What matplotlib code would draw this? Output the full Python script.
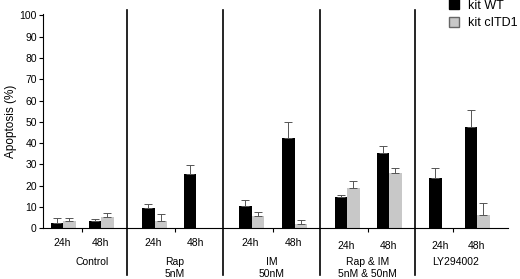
import numpy as np
import matplotlib.pyplot as plt
from matplotlib.patches import Patch

plt.rcParams['font.family'] = ['Liberation Sans', 'DejaVu Sans']

# data: apoptosis (%)
groups = ["Control", "Rap\n5nM", "IM\n50nM", "Rap & IM\n5nM & 50nM", "LY294002"]
times = ["24h", "48h"]
wt = [2.3, 3.6, 9.3, 25.7, 10.6, 42.5, 14.5, 35.5, 23.8, 47.8]
wt_err = [2.4, 0.9, 1.9, 4.2, 2.9, 7.5, 1.1, 3.1, 4.5, 7.8]
itd = [3.4, 5.1, 3.4, 0.0, 5.7, 2.2, 18.7, 26.2, 0.0, 6.1]
itd_err = [1.3, 2.2, 3.3, 0.0, 1.8, 1.5, 3.4, 2.1, 0.0, 5.7]

# layout (x in pixel-like units of the original figure)
pair_x = np.array([63, 101, 154.5, 196, 251.5, 294.5, 347, 389, 441.5, 477])
seps = [127, 223, 320, 414.5]
group_mid = [82, 175, 273, 368, 453]
label_x = [92, 174.5, 272, 367.5, 456]
w = 12.5

fig = plt.figure(figsize=(5.2, 2.79), dpi=100)
ax = fig.add_axes([43/520, 50.7/279, (508-43)/520, 214/279])

zeros = np.zeros(len(wt))
ax.bar(pair_x - w/2, wt, w, color="black", yerr=[zeros, wt_err],
       error_kw=dict(ecolor="#555555", elinewidth=0.7, capsize=3, capthick=0.7))
itd_arr = np.array(itd)
mask = itd_arr > 0
ax.bar(pair_x[mask] + w/2, itd_arr[mask], w, color="#c8c8c8",
       yerr=[zeros[mask], np.array(itd_err)[mask]],
       error_kw=dict(ecolor="#555555", elinewidth=0.7, capsize=3, capthick=0.7))

ax.set_xlim(43, 508)
ax.set_ylim(0, 100.5)
ax.set_yticks(np.arange(0, 101, 10))
ax.set_xticks(group_mid)
ax.set_xticklabels([])
ax.tick_params(axis="both", direction="out", length=3, width=0.8, labelsize=7.5, pad=1.5)
for s in ["top", "right"]:
    ax.spines[s].set_visible(False)
for s in ["left", "bottom"]:
    ax.spines[s].set_linewidth(0.8)
ax.set_ylabel("Apoptosis (%)", fontsize=8.5, labelpad=2)

tr = ax.get_xaxis_transform()
for x in seps:
    ax.plot([x, x], [1.02, -0.218], color="black", lw=1.2, transform=tr, clip_on=False)

for i, g in enumerate(groups):
    ty = -0.069 if i < 3 else -0.083
    for j, t in enumerate(times):
        ax.text(pair_x[2*i + j] - 1, ty, t, transform=tr, ha="center", va="center", fontsize=7.5)
    if "\n" in g:
        a, b = g.split("\n")
        ax.text(label_x[i], -0.157, a, transform=tr, ha="center", va="center", fontsize=7.5)
        ax.text(label_x[i], -0.2135, b, transform=tr, ha="center", va="center", fontsize=7.5)
    else:
        ax.text(label_x[i], -0.157, g, transform=tr, ha="center", va="center", fontsize=7.5)

handles = [Patch(facecolor="black", edgecolor="black", label="kit WT"),
           Patch(facecolor="#c8c8c8", edgecolor="#666666", label="kit cITD1")]
fig.legend(handles=handles, loc="upper left", bbox_to_anchor=(444/520, 1.02), frameon=False,
           fontsize=9, handlelength=0.8, handleheight=0.8, handletextpad=0.7, labelspacing=0.45,
           borderaxespad=0)

fig.savefig("out.png", dpi=100)
